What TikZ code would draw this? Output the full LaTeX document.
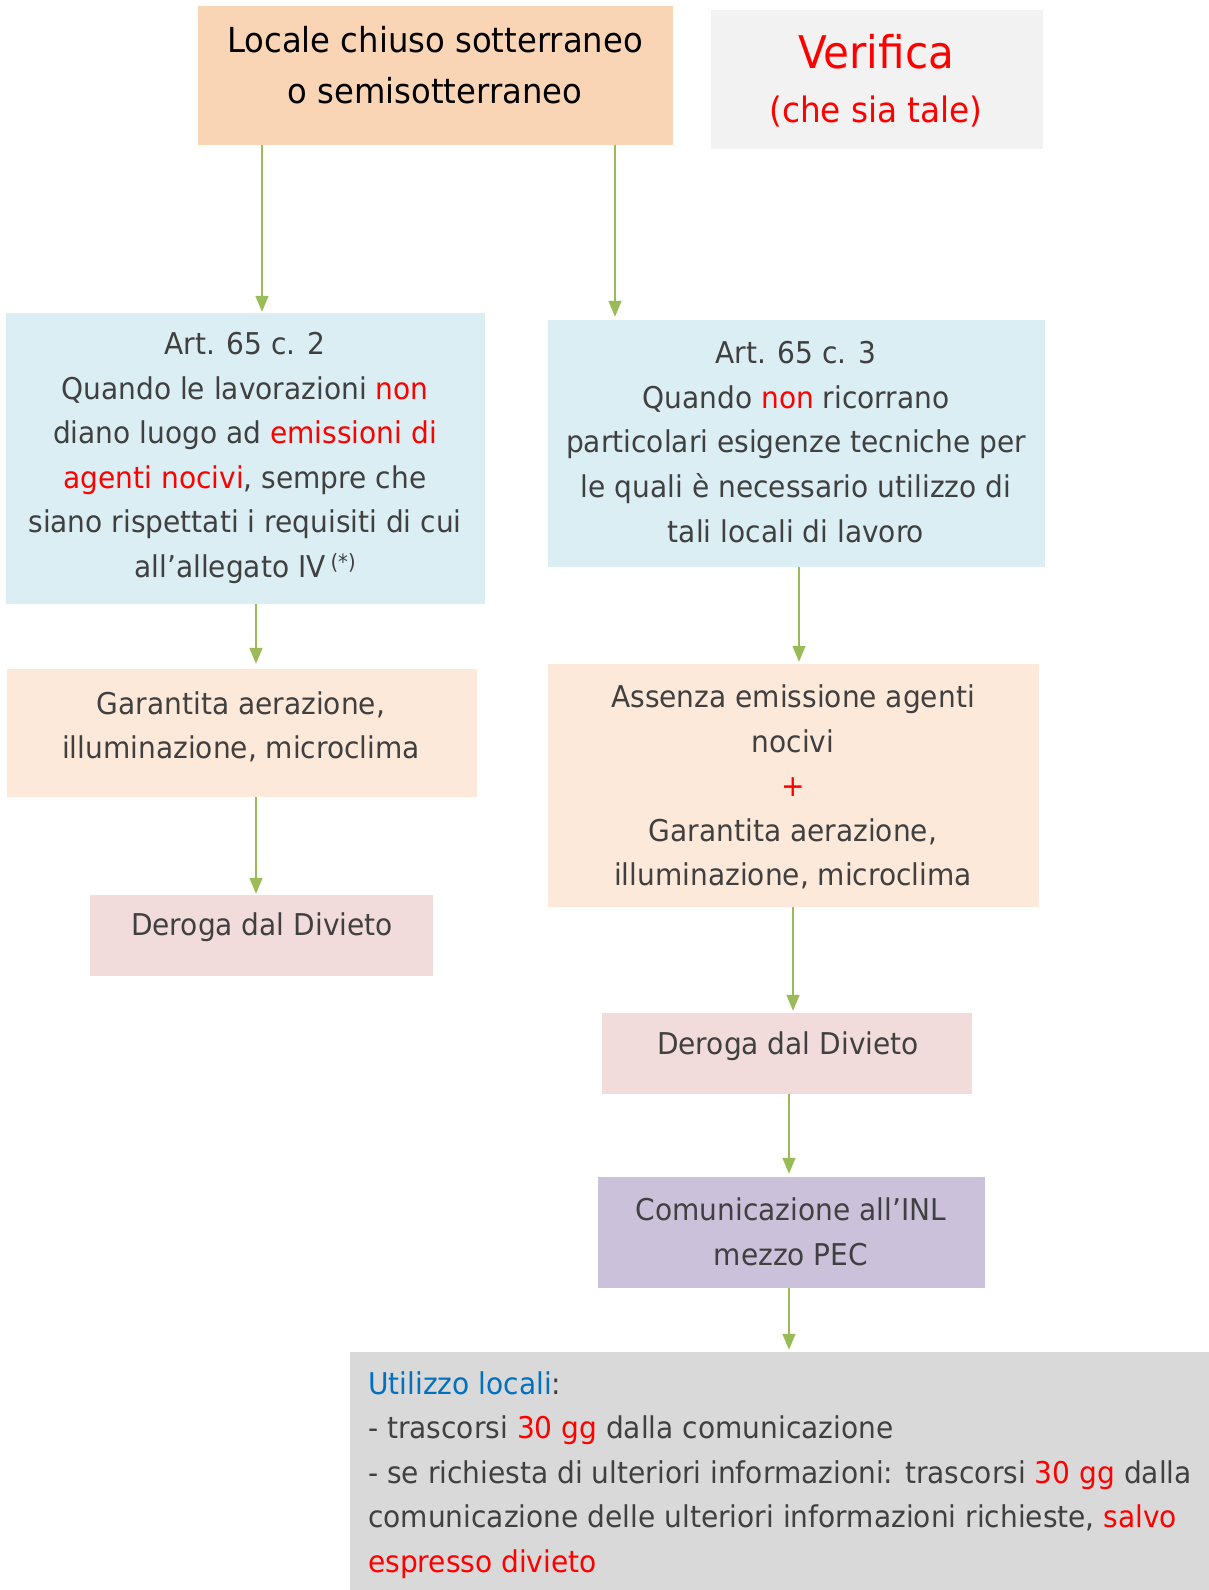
\documentclass[tikz,border=0pt]{standalone}
\usepackage{fontspec}
\setmainfont[FakeStretch=0.935]{DejaVu Sans}
\usetikzlibrary{arrows.meta}
\definecolor{cTop}{HTML}{FAD5B5}
\definecolor{cVer}{HTML}{F2F2F2}
\definecolor{cBlue}{HTML}{DAEEF3}
\definecolor{cPeach}{HTML}{FDE9D9}
\definecolor{cPink}{HTML}{F2DCDB}
\definecolor{cPurple}{HTML}{CCC1DA}
\definecolor{cGray}{HTML}{D9D9D9}
\definecolor{cText}{HTML}{404040}
\definecolor{cRed}{HTML}{FF0000}
\definecolor{cBlueT}{HTML}{0070C0}
\definecolor{cArr}{HTML}{9BBB59}
\begin{document}
\begin{tikzpicture}[x=1pt,y=-1pt,
  box/.style={draw=none, inner sep=0pt},
  txt/.style={inner sep=0pt, align=center, text=cText, font=\fontsize{30}{44.6}\selectfont},
  arr/.style={draw=cArr, line width=1.5pt, -{Triangle[width=13pt,length=16pt]}, shorten >=2pt}]
\useasboundingbox (0,0) rectangle (1209,1590);
% boxes
\node[box, fill=cTop, minimum width=475pt, minimum height=139pt] (top) at (435.5,75.5) {};
\node[box, fill=cVer, minimum width=332pt, minimum height=139pt] (ver) at (877,79.5) {};
\node[box, fill=cBlue, minimum width=479pt, minimum height=291pt] (lb) at (245.5,458.5) {};
\node[box, fill=cBlue, minimum width=497pt, minimum height=247pt] (rb) at (796.5,443.5) {};
\node[box, fill=cPeach, minimum width=470pt, minimum height=128pt] (lp) at (242,733) {};
\node[box, fill=cPink, minimum width=343pt, minimum height=81pt] (ld) at (261.5,935.5) {};
\node[box, fill=cPeach, minimum width=491pt, minimum height=243pt] (rp) at (793.5,785.5) {};
\node[box, fill=cPink, minimum width=370pt, minimum height=81pt] (rd) at (787,1053.5) {};
\node[box, fill=cPurple, minimum width=387pt, minimum height=111pt] (com) at (791.5,1232.5) {};
\node[box, fill=cGray, minimum width=859pt, minimum height=238pt] (bot) at (779.5,1471) {};
% texts
\node[txt, text=black, font=\fontsize{34.5}{51}\selectfont] (topT) at (435,65) {Locale chiuso sotterraneo\\o semisotterraneo};
\node[txt, text=cRed, font=\fontsize{45}{60}\selectfont] (verT1) at (876,52) {Verifica};
\node[txt, text=cRed, font=\fontsize{35}{44}\selectfont] (verT2) at (876,112) {(che sia tale)};
\node[txt] (lbT) at (245,458) {Art. 65 c. 2\\Quando le lavorazioni \textcolor{cRed}{non}\\diano luogo ad \textcolor{cRed}{emissioni di}\\\textcolor{cRed}{agenti nocivi}, sempre che\\siano rispettati i requisiti di cui\\all’allegato IV\,\raisebox{8pt}{\fontsize{21}{21}\selectfont(*)}};
\node[txt] (rbT) at (796,442) {Art. 65 c. 3\\Quando \textcolor{cRed}{non} ricorrano\\particolari esigenze tecniche per\\le quali è necessario utilizzo di\\tali locali di lavoro};
\node[txt] (lpT) at (241,727) {Garantita aerazione,\\illuminazione, microclima};
\node[txt] (ldT) at (262,927) {Deroga dal Divieto};
\node[txt] (rpT) at (793,787) {Assenza emissione agenti\\nocivi\\\textcolor{cRed}{+}\\Garantita aerazione,\\illuminazione, microclima};
\node[txt] (rdT) at (788,1046) {Deroga dal Divieto};
\node[txt] (comT) at (791,1232) {Comunicazione all’INL\\mezzo PEC};
\node[txt, align=left, anchor=west] (botT) at (368,1475) {\textcolor{cBlueT}{Utilizzo locali}:\\- trascorsi \textcolor{cRed}{30 gg} dalla comunicazione\\- se richiesta di ulteriori informazioni: trascorsi \textcolor{cRed}{30 gg} dalla\\comunicazione delle ulteriori informazioni richieste, \textcolor{cRed}{salvo}\\\textcolor{cRed}{espresso divieto}};
% arrow x positions
\coordinate (xa) at (262,0);
\coordinate (xb) at (615,0);
\coordinate (xc) at (256,0);
\coordinate (xd) at (799,0);
\coordinate (xe) at (793,0);
\coordinate (xf) at (789,0);
% connectors
\draw[arr, shorten >=1pt] (top.south -| xa) -- (lb.north -| xa);
\draw[arr, shorten >=3pt] (top.south -| xb) -- (rb.north -| xb);
\draw[arr, shorten >=5pt] (lb.south -| xc) -- (lp.north -| xc);
\draw[arr, shorten >=1pt] (lp.south -| xc) -- (ld.north -| xc);
\draw[arr] (rb.south -| xd) -- (rp.north -| xd);
\draw[arr] (rp.south -| xe) -- (rd.north -| xe);
\draw[arr, shorten >=3pt] (rd.south -| xf) -- (com.north -| xf);
\draw[arr] (com.south -| xf) -- (bot.north -| xf);
\end{tikzpicture}
\end{document}
